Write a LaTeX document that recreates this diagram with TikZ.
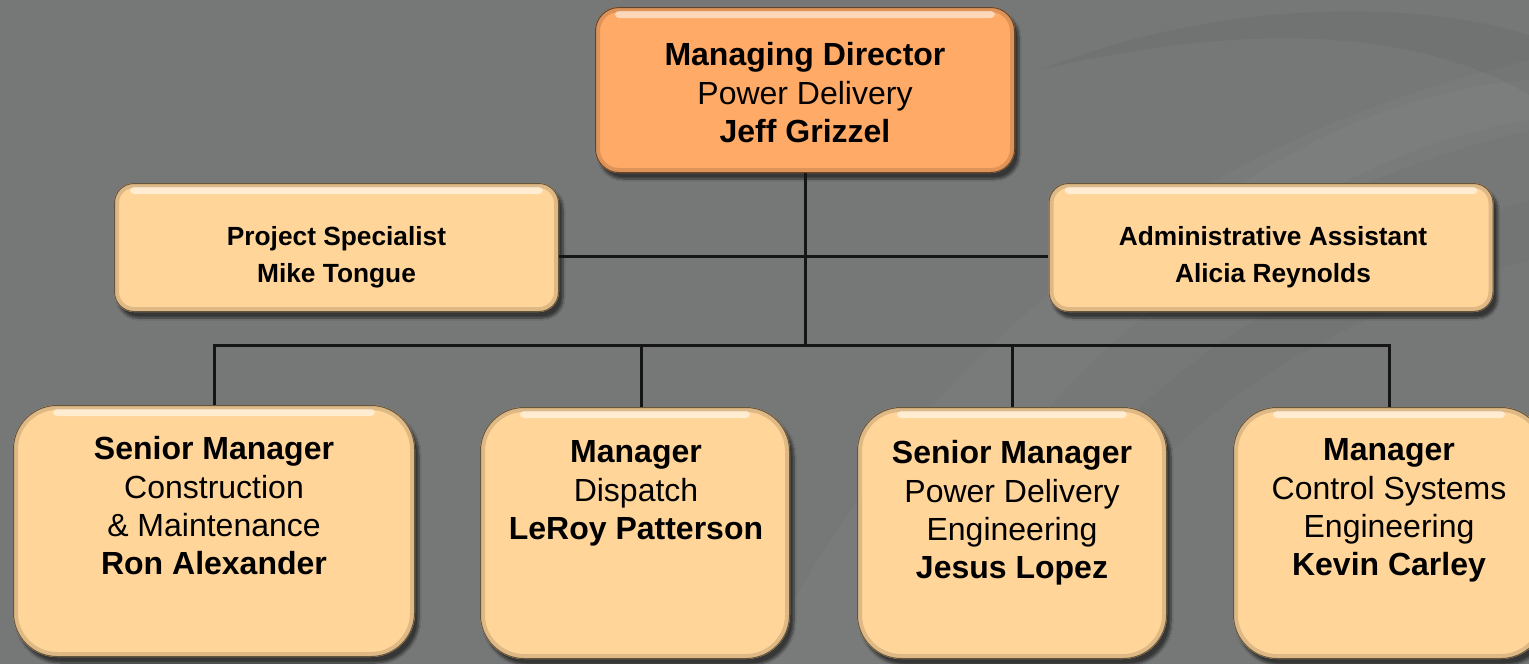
\documentclass[tikz,border=0pt]{standalone}
\usepackage{fontspec}
\setmainfont{Liberation Sans}
\usetikzlibrary{shadows.blur}

\definecolor{bg}{HTML}{767877}
\definecolor{mdfill}{HTML}{FFAA66}
\definecolor{boxfill}{HTML}{FFD599}
\definecolor{wire}{HTML}{151515}

\tikzset{
  % raised, bevelled card: fill colour, corner radius
  card/.style n args={2}{
    rounded corners=#2, fill=#1, inner sep=0pt,
    blur shadow={shadow xshift=4pt, shadow yshift=-6pt, shadow blur steps=10, shadow opacity=55},
    path picture={
      \draw[rounded corners=#2, line width=10pt, draw=black, opacity=0.13]
        (path picture bounding box.south west) rectangle (path picture bounding box.north east);
      \draw[rounded corners=#2, line width=2pt, draw=black!60!#1]
        (path picture bounding box.south west) rectangle (path picture bounding box.north east);
      \fill[white, opacity=0.55, rounded corners=4pt]
        ([xshift=#2-4pt, yshift=-4pt]path picture bounding box.north west) rectangle
        ([xshift=-#2+4pt, yshift=-11pt]path picture bounding box.north east);
    }},
  topcard/.style={card={mdfill}{24pt}, minimum width=420pt, minimum height=166pt},
  sidecard/.style={card={boxfill}{20pt}, minimum width=445pt, minimum height=129pt},
  unitcard/.style={card={boxfill}{44pt}, minimum height=252pt},
  bigtext/.style={align=center, inner sep=0pt, anchor=north, text=black,
    font=\fontsize{32}{38.3}\selectfont},
  smalltext/.style={align=center, inner sep=0pt, anchor=north, text=black,
    font=\fontsize{26.3}{37}\selectfont\bfseries},
  wireline/.style={draw=wire, line width=3pt},
}

\begin{document}
\begin{tikzpicture}[x=1pt, y=-1pt]
  \useasboundingbox (0,0) rectangle (1529,664);

  % background with faint sweeping bands
  \fill[bg] (0,0) rectangle (1529,664);
  \begin{scope}
    \clip (0,0) rectangle (1529,664);
    \fill[white, opacity=0.025] (760,664) .. controls (900,380) and (1150,150) .. (1529,60)
      -- (1529,130) .. controls (1200,210) and (980,420) .. (900,664) -- cycle;
    \fill[black, opacity=0.035] (1040,70) .. controls (1250,20) and (1420,30) .. (1529,95)
      -- (1529,35) .. controls (1400,-5) and (1200,5) .. (1040,70) -- cycle;
    \fill[white, opacity=0.025] (1100,300) .. controls (1250,150) and (1400,90) .. (1529,80)
      -- (1529,120) .. controls (1400,140) and (1250,220) .. (1150,320) -- cycle;
    \fill[black, opacity=0.025] (960,664) .. controls (1040,470) and (1200,300) .. (1529,200)
      -- (1529,260) .. controls (1250,340) and (1100,480) .. (1040,664) -- cycle;
  \end{scope}

  % cards
  \node[topcard]  (md) at (805,90) {};
  \node[sidecard] (ps) at (336.5,247.5) {};
  \node[sidecard] (aa) at (1271,247.5) {};
  \node[unitcard, minimum width=402pt] (b1) at (214,531) {};
  \node[unitcard, minimum width=310pt] (b2) at (635,533) {};
  \node[unitcard, minimum width=310pt] (b3) at (1012,533) {};
  \node[unitcard, minimum width=312pt] (b4) at (1389,533) {};

  % connectors
  \coordinate (side) at (806,256);
  \coordinate (bus)  at (806,345);
  \draw[wireline] (md.south) -- (md.south |- bus);
  \draw[wireline] (ps.east |- side) -- (aa.west |- side);
  \draw[wireline] (b1.north) -- (b1.north |- bus) -- (b4.north |- bus) -- (b4.north);
  \draw[wireline] ([xshift=6pt]b2.north) -- ([xshift=6pt]b2.north |- bus);
  \draw[wireline] (b3.north) -- (b3.north |- bus);

  % texts
  \node[bigtext] (mdt) at (805,42.5) {\textbf{Managing Director}\\Power Delivery\\\textbf{Jeff Grizzel}};
  \node[smalltext] (pst) at (336.5,226.5) {Project Specialist\\Mike Tongue};
  \node[smalltext] (aat) at (1273,226.5) {Administrative Assistant\\Alicia Reynolds};
  \node[bigtext] (b1t) at (214,436.5) {\textbf{Senior Manager}\\Construction\\\& Maintenance\\\textbf{Ron Alexander}};
  \node[bigtext] (b2t) at (636,440.5) {\textbf{Manager}\\Dispatch\\\textbf{LeRoy Patterson}};
  \node[bigtext] (b3t) at (1012,440.5) {\textbf{Senior Manager}\\Power Delivery\\Engineering\\\textbf{Jesus Lopez}};
  \node[bigtext] (b4t) at (1389,438.5) {\textbf{Manager}\\Control Systems\\Engineering\\\textbf{Kevin Carley}};
\end{tikzpicture}
\end{document}
